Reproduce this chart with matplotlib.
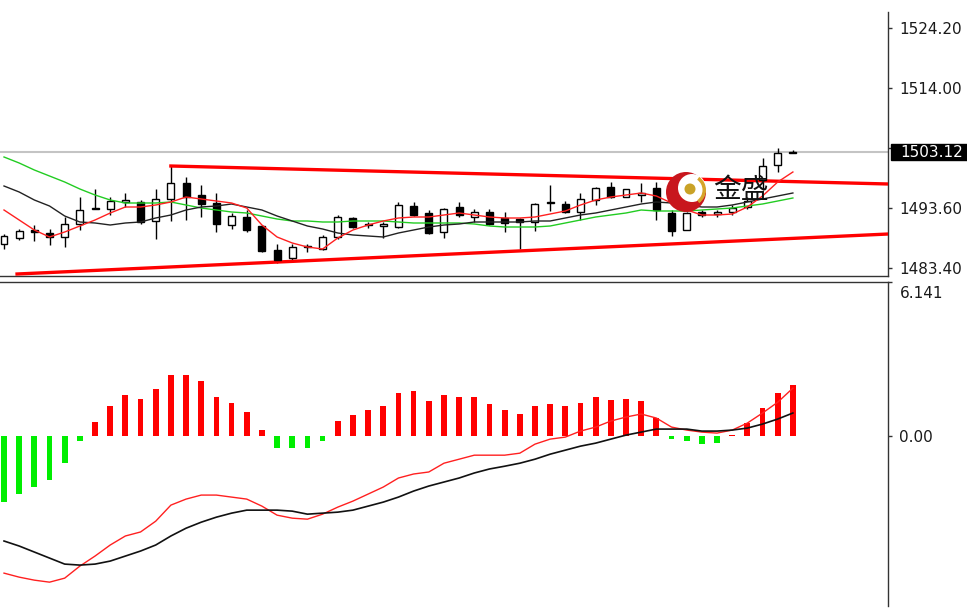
import numpy as np
import matplotlib
matplotlib.use("Agg")
import matplotlib.pyplot as plt
from matplotlib.patches import Rectangle, Wedge, Circle
from matplotlib.transforms import blended_transform_factory

# ---- candles ----
opens = [1487.5, 1488.5, 1489.8, 1489.3, 1488.7, 1490.9, 1493.5, 1493.4, 1494.6, 1494.6,
         1491.4, 1495.1, 1497.9, 1495.8, 1494.4, 1490.7, 1492.1, 1490.5, 1486.5, 1485.1,
         1487.0, 1486.6, 1488.7, 1491.9, 1490.8, 1490.5, 1490.4, 1493.9, 1492.8, 1489.5,
         1493.8, 1492.1, 1492.9, 1491.9, 1491.7, 1491.2, 1494.4, 1494.3, 1492.9, 1495.0,
         1497.2, 1495.5, 1495.8, 1497.0, 1492.8, 1489.9, 1492.9, 1492.6, 1492.9, 1493.8,
         1498.4, 1500.9, 1503.0]
highs = [1489.2, 1490.0, 1490.7, 1490.0, 1492.1, 1495.5, 1496.8, 1495.5, 1496.1, 1495.0,
         1496.8, 1500.7, 1498.9, 1497.5, 1496.1, 1492.8, 1493.3, 1490.7, 1487.5, 1487.5,
         1487.5, 1489.0, 1492.4, 1492.1, 1491.2, 1491.2, 1494.6, 1494.6, 1493.3, 1493.6,
         1494.6, 1493.4, 1493.4, 1492.9, 1491.9, 1494.5, 1497.5, 1494.8, 1496.1, 1497.2,
         1498.0, 1496.8, 1497.9, 1498.0, 1493.3, 1492.9, 1493.3, 1493.3, 1494.1, 1495.5,
         1502.1, 1503.8, 1503.4]
lows = [1486.6, 1488.2, 1488.0, 1487.3, 1487.0, 1489.9, 1493.4, 1492.4, 1493.8, 1490.9,
        1488.3, 1491.4, 1491.6, 1492.1, 1489.5, 1490.0, 1489.5, 1486.1, 1484.2, 1484.4,
        1486.1, 1486.5, 1488.3, 1490.2, 1490.2, 1488.5, 1490.2, 1492.2, 1489.2, 1488.5,
        1492.1, 1491.2, 1490.7, 1489.5, 1486.6, 1489.7, 1493.1, 1492.7, 1491.6, 1494.1,
        1495.3, 1495.5, 1494.6, 1491.6, 1488.8, 1489.9, 1492.1, 1492.1, 1492.4, 1493.4,
        1496.7, 1499.7, 1502.9]
closes = [1488.8, 1489.7, 1489.6, 1488.7, 1490.9, 1493.3, 1493.6, 1494.8, 1494.9, 1491.2,
          1495.1, 1497.9, 1495.5, 1494.3, 1490.9, 1492.2, 1489.9, 1486.3, 1484.8, 1487.0,
          1487.1, 1488.7, 1492.1, 1490.4, 1490.7, 1490.8, 1494.1, 1492.4, 1489.3, 1493.4,
          1492.4, 1492.9, 1490.9, 1491.1, 1491.2, 1494.3, 1494.6, 1492.9, 1495.1, 1497.0,
          1495.5, 1496.8, 1496.1, 1493.3, 1489.7, 1492.8, 1492.4, 1492.9, 1493.6, 1494.8,
          1500.7, 1502.95, 1503.12]

# moving averages
ma_fast = [1493.26, 1491.56, 1489.86, 1488.67, 1489.52, 1490.54, 1491.56, 1492.75, 1493.77, 1493.77,
           1494.11, 1494.62, 1495.47, 1495.13, 1494.79, 1494.45, 1493.60, 1490.71, 1488.67, 1487.65,
           1486.97, 1486.63, 1488.50, 1489.86, 1490.71, 1491.39, 1491.90, 1492.07, 1492.07, 1492.41,
           1492.75, 1492.41, 1492.07, 1491.90, 1491.90, 1492.07, 1492.58, 1493.09, 1494.11, 1494.96,
           1495.47, 1495.81, 1496.15, 1495.64, 1494.45, 1493.26, 1492.41, 1492.41, 1492.58, 1493.77,
           1495.64, 1498.02, 1499.72]
ma_mid = [1497.34, 1496.32, 1494.96, 1493.94, 1492.24, 1491.22, 1491.05, 1490.71, 1491.05, 1491.22,
          1491.90, 1492.41, 1493.26, 1493.77, 1493.94, 1494.28, 1493.77, 1493.26, 1492.24, 1491.39,
          1490.54, 1490.03, 1489.35, 1489.01, 1488.84, 1488.67, 1489.35, 1489.86, 1490.37, 1490.71,
          1490.88, 1491.22, 1491.22, 1491.22, 1491.22, 1491.39, 1491.39, 1491.90, 1492.41, 1492.75,
          1493.26, 1493.77, 1494.28, 1494.62, 1494.45, 1494.11, 1493.77, 1493.77, 1494.11, 1494.62,
          1495.13, 1495.64, 1496.15]
ma_slow = [1502.27, 1501.25, 1500.06, 1499.04, 1498.02, 1496.83, 1495.81, 1494.96, 1494.45, 1494.45,
           1494.45, 1494.62, 1494.11, 1493.60, 1493.26, 1492.92, 1492.75, 1492.24, 1491.73, 1491.39,
           1491.39, 1491.22, 1491.22, 1491.39, 1491.39, 1491.39, 1491.22, 1491.05, 1491.05, 1491.05,
           1491.05, 1490.88, 1490.54, 1490.37, 1490.37, 1490.37, 1490.54, 1491.05, 1491.56, 1492.07,
           1492.41, 1492.75, 1493.26, 1493.09, 1493.09, 1493.09, 1493.26, 1493.43, 1493.60, 1493.94,
           1494.28, 1494.79, 1495.30]

# channel lines (start / end)
upper_x = [11.0, 58.3]
upper_y = [1500.74, 1497.68]
lower_x = [0.86, 58.3]
lower_y = [1482.38, 1489.18]

last_price = 1503.12
price_ticks = [1483.40, 1493.60, 1503.80, 1514.00, 1524.20]
price_labels = ["1483.40", "1493.60", "", "1514.00", "1524.20"]

# ---- MACD ----
macd_hist = [-2.62, -2.32, -2.02, -1.73, -1.09, -0.2, 0.55, 1.20, 1.63, 1.47,
             1.86, 2.43, 2.43, 2.20, 1.57, 1.33, 0.97, 0.24, -0.49, -0.49,
             -0.49, -0.2, 0.61, 0.84, 1.06, 1.20, 1.70, 1.79, 1.41, 1.63,
             1.57, 1.57, 1.27, 1.04, 0.90, 1.20, 1.26, 1.20, 1.33, 1.57,
             1.43, 1.49, 1.41, 0.72, -0.1, -0.19, -0.32, -0.26, 0.05, 0.53,
             1.13, 1.73, 2.04]
macd_red = [-5.46, -5.62, -5.74, -5.82, -5.66, -5.18, -4.78, -4.34, -3.98, -3.82,
            -3.39, -2.75, -2.51, -2.35, -2.35, -2.43, -2.51, -2.79, -3.15, -3.27,
            -3.31, -3.11, -2.83, -2.59, -2.31, -2.03, -1.67, -1.51, -1.43, -1.08,
            -0.92, -0.76, -0.76, -0.76, -0.68, -0.32, -0.12, -0.04, 0.20, 0.36,
            0.60, 0.76, 0.88, 0.72, 0.36, 0.24, 0.16, 0.12, 0.24, 0.52,
            0.92, 1.35, 1.91]
macd_black = [-4.18, -4.38, -4.62, -4.86, -5.10, -5.14, -5.10, -4.98, -4.78, -4.58,
              -4.34, -3.98, -3.67, -3.43, -3.23, -3.07, -2.95, -2.95, -2.95, -2.99,
              -3.11, -3.07, -3.03, -2.95, -2.79, -2.63, -2.43, -2.19, -1.99, -1.83,
              -1.67, -1.47, -1.31, -1.20, -1.08, -0.92, -0.72, -0.56, -0.40, -0.28,
              -0.12, 0.04, 0.16, 0.28, 0.28, 0.28, 0.20, 0.20, 0.24, 0.32,
              0.48, 0.68, 0.92]
macd_top = 6.141

W, H = 967, 611
fig = plt.figure(figsize=(W / 100, H / 100), dpi=100)
fig.patch.set_facecolor("white")


def box(x0, y0, x1, y1):
    # pixel box (from top-left) -> figure fraction rect
    return [x0 / W, 1 - y1 / H, (x1 - x0) / W, (y1 - y0) / H]


ax = fig.add_axes(box(0, 12, 888, 276))
ax2 = fig.add_axes(box(0, 282, 888, 606))

idx = np.arange(len(opens))
xmin, xmax = -0.264, 58.27

# candles
ax.vlines(idx, lows, highs, color="black", lw=1, zorder=3)
bw = 0.46
for i in idx:
    o, c = opens[i], closes[i]
    bottom = min(o, c)
    h = max(abs(c - o), 0.12)
    fc = "white" if c >= o else "black"
    ax.add_patch(Rectangle((i - bw / 2, bottom), bw, h, fc=fc, ec="black", lw=1, zorder=4))

ax.axhline(last_price, color="#c4c4c4", lw=1.5, zorder=1)
ax.plot(upper_x, upper_y, color="#ff0000", lw=2.4, zorder=3)
ax.plot(lower_x, lower_y, color="#ff0000", lw=2.4, zorder=3)
ax.plot(idx, ma_slow, color="#22cc22", lw=1, zorder=5)
ax.plot(idx, ma_mid, color="#222222", lw=1, zorder=5)
ax.plot(idx, ma_fast, color="#ff2020", lw=1, zorder=5)

ax.set_xlim(xmin, xmax)
ax.set_ylim(1482.04, 1526.92)

# macd panel
hist_colors = ["#ff0000" if v > 0 else "#00ee00" for v in macd_hist]
ax2.bar(idx, macd_hist, width=0.38, color=hist_colors, zorder=2)
ax2.plot(idx, macd_red, color="#ff2020", lw=1, zorder=3)
ax2.plot(idx, macd_black, color="#111111", lw=1.2, zorder=4)
ax2.set_xlim(xmin, xmax)
ax2.set_ylim(-6.77, 6.135)

for a in (ax, ax2):
    a.set_facecolor("white")
    a.spines["left"].set_visible(False)
    a.set_xticks([])
    a.yaxis.tick_right()
    a.tick_params(axis="y", direction="out", length=3, width=1, colors="#333333",
                  labelcolor="#1a1a1a", labelsize=11, pad=5)
    for s in a.spines.values():
        s.set_color("#333333")
        s.set_linewidth(1)
ax.spines["top"].set_visible(False)
ax2.spines["bottom"].set_visible(False)

ax.set_yticks(price_ticks)
ax.set_yticklabels(price_labels)
ax2.set_yticks([0, macd_top])
ax2.set_yticklabels(["0.00", ""])

tr = blended_transform_factory(ax.transAxes, ax.transData)
ax.add_patch(Rectangle((891 / 888, last_price - 1.36), 76 / 888, 2.72, transform=tr,
                       fc="black", ec="black", clip_on=False, zorder=6))
ax.text(900 / 888, last_price, f"{last_price:.2f}", transform=tr, color="white",
        fontsize=11, va="center", ha="left", zorder=7, clip_on=False)

tr2 = blended_transform_factory(ax2.transAxes, ax2.transData)
ax2.text(900 / 888, macd_top - 0.15, f"{macd_top:.3f}", transform=tr2, color="#1a1a1a",
         fontsize=11, va="top", ha="left", clip_on=False)

# watermark logo
ov = fig.add_axes([0, 0, 1, 1])
ov.set_xlim(0, W)
ov.set_ylim(H, 0)
ov.axis("off")
ov.patch.set_alpha(0)
ov.add_patch(Circle((686, 192), 20, fc="#c8161d", ec="none", zorder=10))
ov.add_patch(Circle((692, 188), 14, fc="white", ec="none", zorder=11))
ov.add_patch(Wedge((690, 190), 16, -55, 55, width=3.5, fc="#d6a52b", ec="none", zorder=12))
ov.add_patch(Circle((690, 189), 5.5, fc="#c9a227", ec="none", zorder=12))
ov.text(741, 190, "金盛", fontsize=20, family=["Noto Sans CJK SC", "DejaVu Sans"],
        color="#111111", ha="center", va="center", zorder=13)

fig.savefig("out.png", dpi=100)
